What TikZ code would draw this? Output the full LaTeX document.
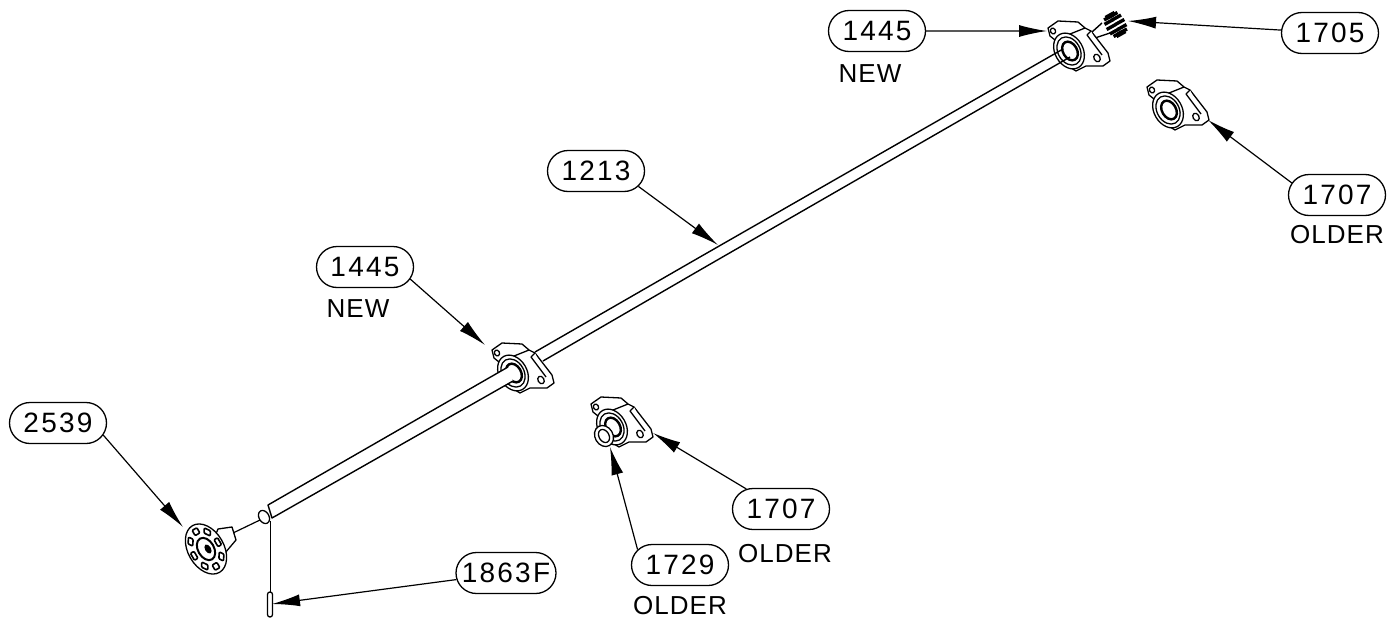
\documentclass[tikz,border=0pt]{standalone}
\usepackage{fontspec}
\setmainfont[LetterSpace=4]{Liberation Sans}
\newfontfamily\tagfont[LetterSpace=8]{Liberation Sans}
\usetikzlibrary{positioning, shapes.misc, arrows.meta}

\begin{document}
\begin{tikzpicture}[x=1pt, y=-1pt,
    tag/.style={rounded rectangle, draw, line width=1.3pt, minimum width=97pt, minimum height=41pt,
      inner sep=0pt, font=\tagfont\fontsize{28}{28}\selectfont},
    note/.style={inner sep=0pt, font=\fontsize{26}{26}\selectfont},
    lead/.style={line width=1.2pt, -{Latex[length=28pt,width=12pt]}},
    part/.style={line width=1.3pt, fill=white, line join=round},
    pics/bearing/.style={code={
      \draw[part] (-20,-25) -- (-10,-32) -- (10,-31) -- (17,-25) -- (23,-22) -- (40,0) -- (42,8)
        -- (35,13) -- (18,13) -- (8,18) -- (0,13) -- (-10,0) -- (-13,-13) -- (-18,-17) -- cycle;
      \draw[part] (17,-25) -- (-3,-17) (23,-22) -- (19,-18) -- (34,2);
      \draw[part] (29,5) ellipse [x radius=3, y radius=4, rotate=30];
      \draw[part] (-15,-22) ellipse [x radius=2.5, y radius=3, rotate=30];
      \draw[part] (1,-2) ellipse [x radius=14, y radius=19, rotate=30];
      \draw[part] (1,-2) ellipse [x radius=11, y radius=15, rotate=30];
      \draw[part, line width=2.4pt] (2,-2) ellipse [x radius=7, y radius=10, rotate=30];
    }}]
  \useasboundingbox (0,0) rectangle (1387,621);

  % shaft behind the middle bearing
  \draw[line width=1.4pt] (535,352) -- (700,257);
  \draw[line width=1.4pt] (543,361) -- (700,270);

  % gear
  \draw[line width=1.4pt] (1092,32) -- (1102,23);
  \draw[line width=1.4pt] (1095,38) -- (1110,33);
  \foreach \a in {0,30,...,330}
    \draw[line width=3.4pt] ({1111+5*cos(\a)*0.866+11*sin(\a)*0.5},{27-5*cos(\a)*0.5+11*sin(\a)*0.866})
      -- ++(9,-5);

  % bearings
  \pic at (1068,53) {bearing};
  \pic at (512,375) {bearing};
  \pic at (1167,112) {bearing};
  \pic at (611,429) {bearing};
  \draw[part] (604,436) ellipse [x radius=9, y radius=11, rotate=30];
  \draw[part] (604,436) ellipse [x radius=5, y radius=7, rotate=30];

  % shaft in front
  \draw[line width=1.4pt] (700,257) -- (1063,49);
  \draw[line width=1.4pt] (700,270) -- (1070,57);
  \filldraw[part, line width=1.4pt] (508,367) -- (268,505) -- (272,518) -- (513,381);
  \draw[part] (264,517) ellipse [x radius=5, y radius=7, rotate=30];
  \draw[line width=1.2pt] (233,533) -- (260,520);

  % pin
  \draw[line width=1pt] (270,521) -- (270,592);
  \draw[part, rounded corners=2.4pt] (267.5,592) rectangle (272.5,617);

  % hub
  \draw[part] (218,529) -- (232,527) -- (236,540) -- (225,553) -- (205,560) -- cycle;
  \draw[part] (206,549) ellipse [x radius=18, y radius=27, rotate=30];
  \begin{scope}[shift={(206,549)}, rotate=30, xscale=.68]
    \foreach \a in {0,45,...,315}
      \draw[part, rotate=\a, rounded corners=1pt, line width=1.6pt] (17,-4) rectangle (23,4);
  \end{scope}
  \draw[part, line width=2pt] (206,549) ellipse [x radius=8, y radius=12, rotate=30];
  \fill (208,549) ellipse [x radius=3, y radius=5, rotate=30];

  % tags
  \node[tag] (A) at (877,31) {1445};
  \node[note, below=12pt of A, xshift=-7pt] (Anew) {NEW};
  \node[tag] (B) at (1330,33) {1705};
  \node[tag] (C) at (1337,195) {1707};
  \node[note, below=9pt of C] (Cold) {OLDER};
  \node[tag] (D) at (596,171) {1213};
  \node[tag] (E) at (365,267) {1445};
  \node[note, below=11pt of E, xshift=-7pt] (Enew) {NEW};
  \node[tag] (F) at (58,423) {2539};
  \node[tag] (G) at (781,509) {1707};
  \node[note, below=14pt of G, xshift=4pt] (Gold) {OLDER};
  \node[tag] (H) at (680,565) {1729};
  \node[note, below=10pt of H] (Hold) {OLDER};
  \node[tag, minimum width=100pt] (I) at (506,573) {1863F};

  % leader ends
  \coordinate (a) at (1047,31);
  \coordinate (b) at (1128,21);
  \coordinate (c) at (1208,120);
  \coordinate (d) at (718,245);
  \coordinate (e) at (485,345);
  \coordinate (f) at (183,527);
  \coordinate (g) at (653,433);
  \coordinate (h) at (610,447);
  \coordinate (i) at (272,604);

  \draw[lead] (A) -- (a);
  \draw[lead] (B) -- (b);
  \draw[lead] (C.165) -- (c);
  \draw[lead] (D.340) -- (d);
  \draw[lead] (E.345) -- (e);
  \draw[lead] (F.345) -- (f);
  \draw[lead] (G.150) -- (g);
  \draw[lead] (H.160) -- (h);
  \draw[lead] (I) -- (i);
\end{tikzpicture}
\end{document}
